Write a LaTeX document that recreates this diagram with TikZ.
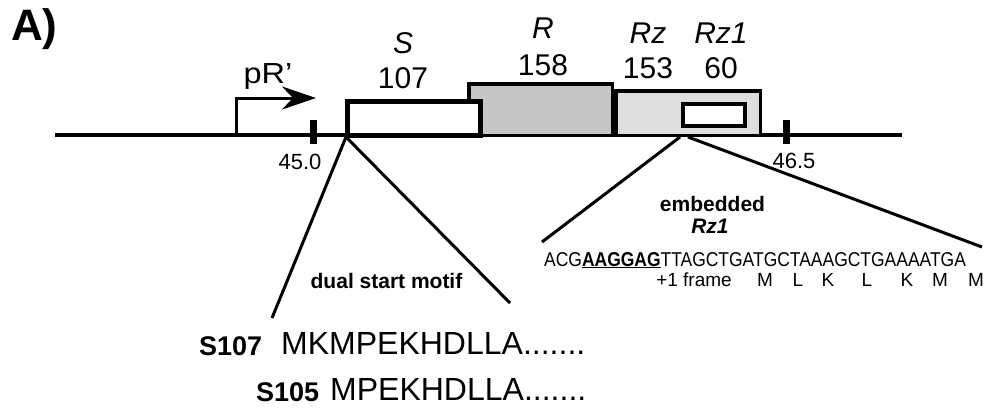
\documentclass[tikz,border=0pt]{standalone}
\usepackage{fontspec}
\setmainfont{Liberation Sans}
\usetikzlibrary{arrows.meta}
\definecolor{rgray}{RGB}{198,198,198}
\definecolor{rzgray}{RGB}{222,222,222}
\newcommand{\fs}[1]{\fontsize{#1}{#1}\selectfont}
\begin{document}
\begin{tikzpicture}[x=1pt,y=-1pt,
  txt/.style={inner sep=0pt, anchor=base},
  gene/.style={txt, font=\fs{30}\itshape},
  len/.style={txt, font=\fs{30}},
  coord/.style={txt, font=\fs{22}},
  note/.style={txt, font=\fs{21}\bfseries},
  seqlbl/.style={txt, anchor=base west, font=\fs{27}\bfseries},
  protein/.style={txt, anchor=base west, font=\fs{32}},
  aa/.style={txt, font=\fs{19}},
  genebox/.style={draw, rectangle, inner sep=0pt},
  tickmark/.style={fill=black, rectangle, inner sep=0pt, minimum width=7pt, minimum height=24pt},
  zoomline/.style={line width=3pt},
]
\useasboundingbox (0,0) rectangle (985,410);

% panel letter
\node[inner sep=0pt, anchor=base west, font=\fs{44}\bfseries] (panel) at (11,40) {A)};

% genome line and map ticks
\coordinate (lineL) at (55,135);
\coordinate (lineR) at (902,135);
\draw[line width=4pt] (lineL) -- (lineR);
\node[tickmark] (t45) at (313,132) {};
\node[tickmark] (t465) at (786,132) {};
\node[coord] (c45) at (300,169) {45.0};
\node[coord] (c465) at (794,168) {46.5};

% promoter pR'
\coordinate (pbase) at (236,135);
\coordinate (ptip) at (316,98);
\draw[line width=3pt, -{Stealth[length=34pt, width=23pt, inset=11pt]}] (pbase) |- (ptip);
\node[txt, font=\fs{29}] (plbl) at (268,83) {\scalebox{1.12}[1]{pR’}};

% lysis gene boxes
\node[genebox, line width=3.5pt, fill=rgray, minimum width=143.5pt, minimum height=51.5pt] (rbox) at (540.5,109.5) {};
\node[genebox, line width=3.5pt, fill=rzgray, minimum width=144.5pt, minimum height=44.5pt] (rzbox) at (688,113) {};
\node[genebox, line width=5pt, fill=white, minimum width=133pt, minimum height=34pt] (sbox) at (414,118.5) {};
\node[genebox, line width=4pt, fill=white, minimum width=62pt, minimum height=22pt] (rz1box) at (714,115) {};

% gene names and lengths
\node[gene] (sname) at (403,53) {S};
\node[len] (slen) at (403,88) {107};
\node[gene] (rname) at (543,38) {R};
\node[len] (rlen) at (543,75) {158};
\node[gene] (rzname) at (648,43) {Rz};
\node[len] (rzlen) at (648,78) {153};
\node[gene] (rz1name) at (721,43) {Rz1};
\node[len] (rz1len) at (721,78) {60};

% S start: dual start motif
\coordinate (sfoot) at (346,137);
\coordinate (sL) at (272,318);
\coordinate (sR) at (510,303);
\draw[zoomline] (sfoot) -- (sL);
\draw[zoomline] (sfoot) -- (sR);
\node[note] (dual) at (386.5,288) {dual start motif};
\node[seqlbl] (s107) at (199,355) {S107};
\node[protein] (p107) at (281,354) {MKMPEKHDLLA.......};
\node[seqlbl] (s105) at (256,401) {S105};
\node[protein] (p105) at (330,400) {MPEKHDLLA.......};

% embedded Rz1
\coordinate (zfootL) at (680,137);
\coordinate (zfootR) at (688,137);
\coordinate (zL) at (542,242);
\coordinate (zR) at (982,247);
\draw[zoomline] (zfootL) -- (zL);
\draw[zoomline] (zfootR) -- (zR);
\node[note] (emb) at (712.5,211) {embedded};
\node[note, font=\fs{21}\bfseries\itshape] (embrz1) at (710,233) {Rz1};
\node[txt, anchor=base west, font=\fs{20}] (dna) at (544,266)
  {\scalebox{0.873}[1]{ACG\underline{\textbf{AAGGAG}}TTAGCTGATGCTAAAGCTGAAAATGA}};
\node[txt] (frame) at (694,286) {\fs{19}+1 frame};
\node[aa] (aa1) at (765,286) {M};
\node[aa] (aa2) at (798,286) {L};
\node[aa] (aa3) at (828,286) {K};
\node[aa] (aa4) at (867,286) {L};
\node[aa] (aa5) at (907,286) {K};
\node[aa] (aa6) at (940,286) {M};
\node[aa] (aa7) at (976,286) {M};
\end{tikzpicture}
\end{document}
